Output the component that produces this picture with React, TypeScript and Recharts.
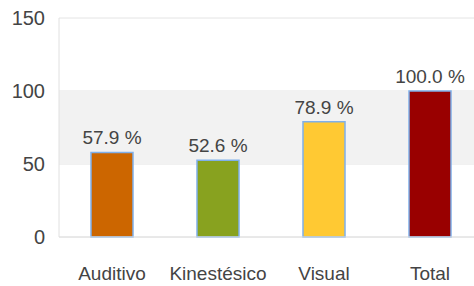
import React from "react";
import { BarChart, Bar, XAxis, YAxis, CartesianGrid, ReferenceArea, LabelList, Cell } from "recharts";

const categories = ["Auditivo", "Kinestésico", "Visual", "Total"];
const values = [57.9, 52.6, 78.9, 100.0];
const colors = ["#cc6600", "#88a21f", "#ffc933", "#990000"];
const yTicks = [0, 50, 100, 150];

const data = categories.map((name, i) => ({ name, value: values[i] }));

const FONT = "'Liberation Sans', Arial, sans-serif";

const renderLabel = (props: any) => {
  const { x, y, width, value } = props;
  return (
    <text
      x={Number(x) + Number(width) / 2}
      y={Number(y) - 8}
      textAnchor="middle"
      fill="#444"
      fontSize={19}
      fontFamily={FONT}
    >
      {`${Number(value).toFixed(1)} %`}
    </text>
  );
};

export default function App() {
  return (
    <div style={{ position: "absolute", left: 0, top: 0, width: 474, height: 286, overflow: "hidden", background: "#fff" }}>
      <BarChart
        width={490}
        height={286}
        data={data}
        margin={{ top: 18, right: 7, left: 0, bottom: 0 }}
        style={{ fontFamily: FONT }}
      >
        <ReferenceArea y1={50} y2={100} fill="#f2f2f2" fillOpacity={1} stroke="none" />
        <CartesianGrid vertical={false} stroke="#e4e4e4" strokeWidth={1} />
        <XAxis
          dataKey="name"
          height={49}
          tickSize={0}
          tickMargin={30}
          axisLine={{ stroke: "#e0e0e0" }}
          tickLine={false}
          tick={{ fill: "#444", fontSize: 19, fontFamily: FONT }}
          interval={0}
        />
        <YAxis
          width={59}
          domain={[0, 150]}
          ticks={yTicks}
          tickSize={0}
          tickMargin={14}
          axisLine={{ stroke: "#e0e0e0" }}
          tickLine={false}
          tick={{ fill: "#444", fontSize: 20, fontFamily: FONT }}
          interval={0}
        />
        <Bar dataKey="value" barSize={42} stroke="#7fb0ea" strokeWidth={1.5} isAnimationActive={false}>
          {data.map((d, i) => (
            <Cell key={d.name} fill={colors[i]} />
          ))}
          <LabelList dataKey="value" content={renderLabel} />
        </Bar>
      </BarChart>
    </div>
  );
}
